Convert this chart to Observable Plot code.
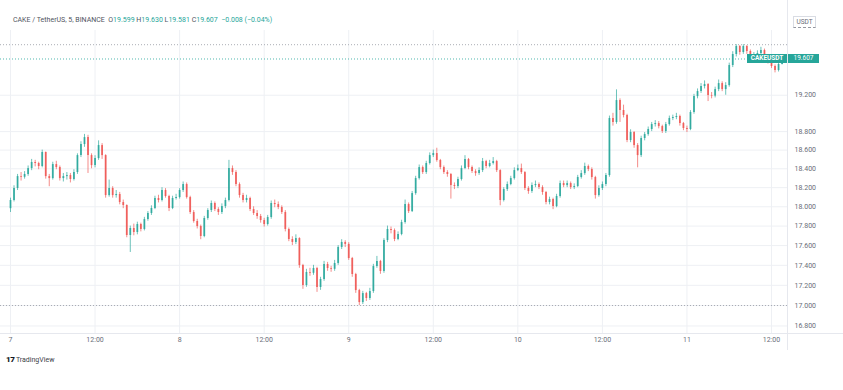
<!DOCTYPE html>
<html>
<head>
<meta charset="utf-8">
<script src="https://cdn.jsdelivr.net/npm/d3@7"></script>
<script src="https://cdn.jsdelivr.net/npm/@observablehq/plot@0.6"></script>
<style>
  html, body { margin: 0; padding: 0; background: #ffffff; }
  body { width: 843px; height: 390px; position: relative; overflow: hidden; font-family: Roboto, "Noto Sans", sans-serif; }
  #chart { position: absolute; left: 0; top: 0; }
  #header { position: absolute; left: 13px; top: 16px; font-size: 7px; color: #50535e; white-space: pre; }
  #header .v { color: #26a69a; }
  #unit { position: absolute; left: 793px; top: 16px; width: 21px; height: 10px; border: 1px solid #d9dce3; border-bottom: 1px dashed #9598a1; font-size: 6.5px; color: #6a6d78; text-align: center; line-height: 10px; }
  .sep-v { position: absolute; left: 787px; top: 0; width: 1px; height: 350px; background: #e6e8ee; }
  .sep-h { position: absolute; left: 0; top: 333px; width: 843px; height: 1px; background: #e6e8ee; }
  .tag { position: absolute; height: 9px; line-height: 9px; background: #26a69a; color: #fff; font-size: 6.5px; font-weight: bold; text-align: center; }
  #logo { position: absolute; left: 6px; top: 355px; font-size: 7px; color: #3c3f48; white-space: pre; }
  #logo b { font-weight: 900; color: #131722; font-size: 8px; letter-spacing: -0.5px; }
</style>
</head>
<body>
<div id="chart"></div>
<div class="sep-v"></div>
<div class="sep-h"></div>
<div id="header"></div>
<div id="unit"></div>
<div id="logo"></div>
<script>
// ---- data (30-minute candles) ----
const symbolText = "CAKE / TetherUS, 5, BINANCE";
const ohlcKeys = ["O", "H", "L", "C"];
const ohlcValues = ["19.599", "19.630", "19.581", "19.607"];
const changeText = "\u22120.008 (\u22120.04%)";
const unitText = "USDT";
const tickerText = "CAKEUSDT";
const brandText = "TradingView";

const candleStartHour = 0;     // hours after day 7, 00:00
const candleStepHours = 0.5;   // 30-minute candles
const firstOpen = 17.98;

const closes = [
18.065,18.191,18.317,18.310,18.339,18.402,18.467,18.456,18.424,18.574,
18.317,18.296,18.445,18.413,18.296,18.317,18.328,18.286,18.360,18.541,
18.660,18.735,18.541,18.434,18.509,18.649,18.541,18.117,18.191,18.117,
18.128,18.044,18.013,17.703,17.775,17.734,17.816,17.765,17.867,17.930,
17.982,18.086,18.065,18.170,18.107,17.982,18.086,18.096,18.170,18.233,
18.096,17.940,17.847,17.795,17.693,17.878,17.961,18.034,17.971,17.940,
18.002,18.065,18.402,18.360,18.233,18.117,18.065,18.086,17.971,17.930,
17.899,17.857,17.816,17.888,18.034,18.023,17.992,17.940,17.765,17.662,
17.632,17.672,17.398,17.198,17.328,17.320,17.368,17.178,17.258,17.409,
17.368,17.360,17.419,17.581,17.632,17.612,17.469,17.308,17.148,17.029,
17.118,17.069,17.138,17.388,17.439,17.338,17.652,17.765,17.754,17.662,
17.713,17.836,18.023,17.950,18.138,18.296,18.413,18.360,18.456,18.541,
18.563,18.488,18.413,18.360,18.339,18.222,18.212,18.286,18.402,18.499,
18.413,18.370,18.349,18.381,18.477,18.424,18.456,18.477,18.381,18.065,
18.180,18.233,18.296,18.381,18.402,18.360,18.191,18.159,18.222,18.233,
18.201,18.149,18.044,18.075,18.002,18.107,18.243,18.222,18.243,18.201,
18.212,18.307,18.349,18.424,18.392,18.307,18.117,18.191,18.233,18.328,
18.943,18.899,19.141,19.031,18.976,18.703,18.790,18.649,18.541,18.725,
18.768,18.823,18.877,18.888,18.855,18.801,18.877,18.943,18.954,18.965,
18.888,18.834,18.823,19.009,19.185,19.241,19.297,19.319,19.196,19.190,
19.263,19.330,19.263,19.308,19.533,19.658,19.749,19.681,19.749,19.692,
19.613,19.647,19.669,19.703,19.624,19.567,19.522,19.477,19.545,19.607
];
const highs = [
18.09,18.22,18.34,18.36,18.37,18.43,18.50,18.49,18.47,18.60,
18.58,18.34,18.47,18.48,18.43,18.35,18.36,18.35,18.39,18.56,
18.69,18.77,18.76,18.56,18.54,18.70,18.67,18.55,18.28,18.21,
18.17,18.15,18.07,18.02,17.80,17.82,17.84,17.83,17.89,17.95,
18.01,18.11,18.12,18.20,18.19,18.12,18.11,18.13,18.19,18.26,
18.25,18.11,17.96,17.87,17.81,17.90,17.98,18.06,18.05,17.99,
18.03,18.09,18.49,18.43,18.38,18.25,18.14,18.12,18.10,18.00,
17.96,17.92,17.88,17.91,18.06,18.07,18.05,18.01,17.96,17.78,
17.69,17.71,17.68,17.41,17.36,17.37,17.40,17.38,17.28,17.44,
17.43,17.39,17.45,17.60,17.66,17.65,17.63,17.48,17.32,17.16,
17.14,17.13,17.17,17.41,17.49,17.45,17.67,17.80,17.79,17.77,
17.74,17.86,18.07,18.04,18.16,18.32,18.44,18.43,18.48,18.57,
18.60,18.62,18.50,18.43,18.38,18.35,18.25,18.31,18.43,18.54,
18.51,18.43,18.39,18.41,18.51,18.49,18.49,18.52,18.49,18.39,
18.20,18.26,18.32,18.41,18.44,18.45,18.37,18.21,18.25,18.27,
18.25,18.22,18.16,18.10,18.09,18.13,18.27,18.27,18.27,18.26,
18.24,18.33,18.38,18.46,18.44,18.41,18.32,18.22,18.26,18.35,
18.97,19.00,19.26,19.16,19.09,18.99,18.82,18.80,18.67,18.75,
18.79,18.85,18.90,18.92,18.91,18.87,18.90,18.97,18.98,19.00,
18.98,18.90,18.86,19.03,19.21,19.27,19.33,19.36,19.33,19.23,
19.29,19.37,19.35,19.34,19.56,19.69,19.77,19.76,19.77,19.76,
19.71,19.68,19.70,19.74,19.72,19.64,19.59,19.54,19.57,19.63
];
const lows = [
17.94,18.05,18.17,18.27,18.29,18.32,18.38,18.42,18.39,18.41,
18.29,18.21,18.28,18.39,18.27,18.26,18.28,18.25,18.27,18.34,
18.52,18.63,18.35,18.40,18.41,18.49,18.50,18.09,18.10,18.09,
18.09,18.02,17.98,17.68,17.53,17.70,17.71,17.74,17.75,17.85,
17.91,17.97,18.04,18.05,18.09,17.95,17.97,18.07,18.08,18.15,
18.08,17.92,17.83,17.77,17.66,17.68,17.86,17.94,17.95,17.91,
17.92,17.98,18.05,18.33,18.21,18.09,18.04,18.04,17.95,17.91,
17.87,17.83,17.79,17.80,17.87,17.99,17.97,17.92,17.74,17.64,
17.60,17.61,17.37,17.16,17.18,17.29,17.30,17.13,17.15,17.24,
17.34,17.33,17.34,17.40,17.56,17.58,17.45,17.28,17.12,17.00,
17.01,17.04,17.05,17.12,17.37,17.31,17.32,17.63,17.72,17.64,
17.65,17.70,17.82,17.93,17.94,18.12,18.28,18.34,18.34,18.44,
18.52,18.47,18.39,18.34,18.31,18.08,18.18,18.19,18.27,18.39,
18.39,18.35,18.32,18.33,18.36,18.40,18.41,18.44,18.36,18.01,
18.05,18.16,18.22,18.28,18.37,18.34,18.17,18.13,18.14,18.20,
18.18,18.12,18.02,18.02,17.97,17.99,18.09,18.20,18.20,18.18,
18.18,18.20,18.29,18.33,18.37,18.28,18.08,18.10,18.17,18.21,
18.31,18.86,18.88,18.90,18.95,18.68,18.68,18.62,18.41,18.52,
18.70,18.75,18.80,18.85,18.83,18.78,18.78,18.86,18.92,18.93,
18.86,18.81,18.79,18.81,18.99,19.16,19.22,19.27,19.13,19.16,
19.17,19.24,19.24,19.20,19.29,19.51,19.63,19.65,19.66,19.66,
19.59,19.60,19.63,19.65,19.60,19.55,19.50,19.45,19.46,19.54
];

const levelLines = [19.77, 17.0];        // dotted reference lines
const yTicks = [16.8, 17.0, 17.2, 17.4, 17.6, 17.8, 18.0, 18.2, 18.4, 18.6, 18.8, 19.2];
const xTicks = [0, 12, 24, 36, 48, 60, 72, 84, 96, 108];   // hours after day 7, 00:00
const xTickLabels = ["7", "12:00", "8", "12:00", "9", "12:00", "10", "12:00", "11", "12:00"];
const xDomain = [-1.42, 110.27];
const yDomain = [16.727, 19.933];

// ---- build table ----
const up = "#26a69a", down = "#ef5350";
const candles = closes.map((c, i) => {
  const o = i === 0 ? firstOpen : closes[i - 1];
  return { t: candleStartHour + i * candleStepHours, open: o, close: c, high: highs[i], low: lows[i], color: c >= o ? up : down };
});
const lastClose = closes[closes.length - 1];
const labelOf = new Map(xTicks.map((t, i) => [t, xTickLabels[i]]));

const chart = Plot.plot({
  width: 843,
  height: 390,
  marginLeft: 0,
  marginRight: 56,
  marginTop: 30,
  marginBottom: 57,
  style: { fontFamily: "Roboto, 'Noto Sans', sans-serif", fontSize: "7px", background: "transparent" },
  x: { type: "linear", domain: xDomain, label: null },
  y: { type: "log", domain: yDomain, label: null },
  marks: [
    Plot.gridY(yTicks, { stroke: "#eef0f4", strokeOpacity: 1 }),
    Plot.gridX(xTicks, { stroke: "#eef0f4", strokeOpacity: 1 }),
    Plot.ruleY(levelLines, { stroke: "#9598a1", strokeDasharray: "1,2", strokeWidth: 0.8 }),
    Plot.ruleY([lastClose], { stroke: up, strokeDasharray: "1,2", strokeWidth: 0.8 }),
    Plot.ruleX(candles, { x: "t", y1: "low", y2: "high", stroke: "color", strokeWidth: 0.8, strokeOpacity: 0.85 }),
    Plot.ruleX(candles, { x: "t", y1: "open", y2: "close", stroke: "color", strokeWidth: 1.8, strokeOpacity: 0.85 }),
    Plot.axisY(yTicks, { anchor: "right", label: null, tickSize: 0, tickPadding: 7, tickFormat: d => d.toFixed(3), color: "#6a6d78", fontSize: 7 }),
    Plot.axisX(xTicks, { anchor: "bottom", label: null, tickSize: 0, tickPadding: 4, tickFormat: d => labelOf.get(d), color: "#6a6d78", fontSize: 7 })
  ]
});
document.getElementById("chart").appendChild(chart);

// header legend
const header = document.getElementById("header");
let html = symbolText + "  ";
ohlcKeys.forEach((k, i) => { html += k + '<span class="v">' + ohlcValues[i] + "</span> "; });
html += ' <span class="v">' + changeText + "</span>";
header.innerHTML = html;

document.getElementById("unit").textContent = unitText;
document.getElementById("logo").innerHTML = "<b>17</b> " + brandText;

// last-price tags, placed through the chart's own y scale
const yPos = chart.scale("y").apply(lastClose);
const tickerTag = document.createElement("div");
tickerTag.className = "tag";
tickerTag.style.left = "747px";
tickerTag.style.width = "40px";
tickerTag.style.top = (yPos - 4.5) + "px";
tickerTag.textContent = tickerText;
document.body.appendChild(tickerTag);
const priceTag = document.createElement("div");
priceTag.className = "tag";
priceTag.style.left = "788px";
priceTag.style.width = "31px";
priceTag.style.top = (yPos - 4.5) + "px";
priceTag.style.fontWeight = "normal";
priceTag.textContent = lastClose.toFixed(3);
document.body.appendChild(priceTag);
</script>
</body>
</html>
